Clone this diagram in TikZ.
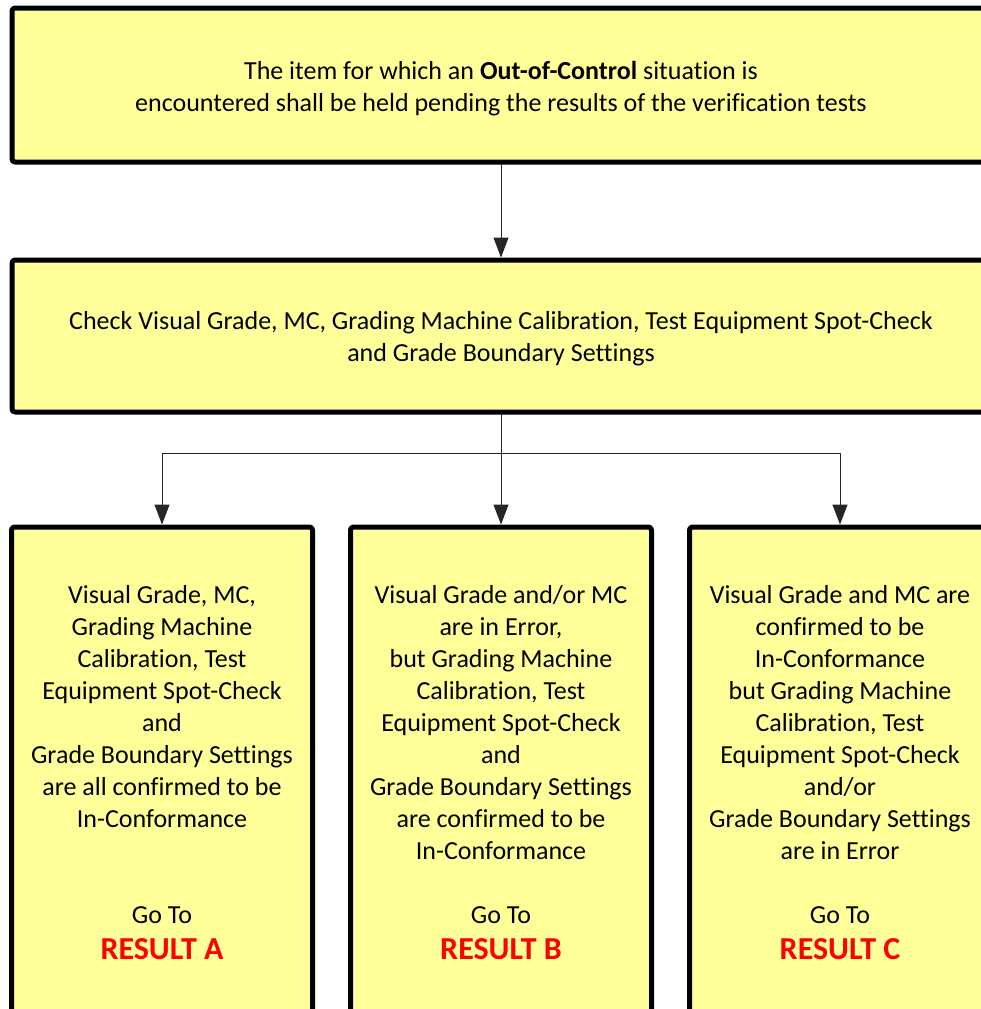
\documentclass[tikz,border=0pt]{standalone}
\usepackage{fontspec}
\setmainfont{Carlito}[Ligatures=NoCommon]
\usetikzlibrary{arrows.meta}
\usetikzlibrary{positioning}
\definecolor{boxyellow}{RGB}{255,255,153}
\definecolor{resultred}{RGB}{255,0,0}

\tikzset{
  flowbox/.style={draw=black,fill=boxyellow,line width=2.5pt,rounded corners=1.5pt,inner sep=0pt},
  flowtext/.style={align=center,inner sep=0pt,font=\fontsize{13}{16}\selectfont},
  flowarrow/.style={-{Triangle[length=10pt,width=7.5pt]},line width=0.5pt,color=black!85},
}

\begin{document}
\begin{tikzpicture}[x=0.5pt,y=-0.5pt,line cap=round,line join=round]
    \useasboundingbox (0,0) rectangle (981,1009);
    \clip (0,0) rectangle (981,1009);
    % boxes
    \node[flowbox,minimum width=489pt,minimum height=77pt] (held) at (501,85) {};
    \node[flowbox,minimum width=489pt,minimum height=76pt] (check) at (501,336) {};
    \node[flowbox,minimum width=150.5pt,minimum height=256pt] (boxA) at (162,783) {};
    \node[flowbox,minimum width=150.5pt,minimum height=256pt] (boxB) at (501,783) {};
    \node[flowbox,minimum width=150.5pt,minimum height=256pt] (boxC) at (840,783) {};
    % texts
    \node[flowtext,anchor=north] (heldtxt) at (501,61) {The item for which an \textbf{Out-of-Control} situation is\\encountered shall be held pending the results of the verification tests};
    \node[flowtext,anchor=north] (checktxt) at (501,311.5) {Check Visual Grade, MC, Grading Machine Calibration, Test Equipment Spot-Check\\and Grade Boundary Settings};
    \node[flowtext,anchor=north] (txtA) at (162,585) {Visual Grade, MC,\\Grading Machine\\Calibration, Test\\Equipment Spot-Check\\and\\Grade Boundary Settings\\are all confirmed to be\\In-Conformance};
    \node[flowtext,anchor=north] (txtB) at (501,585) {Visual Grade and/or MC\\are in Error,\\but Grading Machine\\Calibration, Test\\Equipment Spot-Check\\and\\Grade Boundary Settings\\are confirmed to be\\In-Conformance};
    \node[flowtext,anchor=north] (txtC) at (840,585) {Visual Grade and MC are\\confirmed to be\\In-Conformance\\but Grading Machine\\Calibration, Test\\Equipment Spot-Check\\and/or\\Grade Boundary Settings\\are in Error};
    \foreach \col/\res in {162/A,501/B,840/C}
    \node[flowtext,anchor=north] (go\res) at (\col,906) {Go To\\[2pt]{\fontsize{16}{18}\selectfont\bfseries\color{resultred}RESULT \res}};
    % connectors
    \coordinate (split) at (501,453);
    \draw[flowarrow] (held.south) -- (check.north);
    \draw[line width=0.5pt,color=black!85] (check.south) -- (split);
    \draw[flowarrow] (split) -| (boxA.north);
    \draw[flowarrow] (split) -- (boxB.north);
    \draw[flowarrow] (split) -| (boxC.north);
\end{tikzpicture}
\end{document}
